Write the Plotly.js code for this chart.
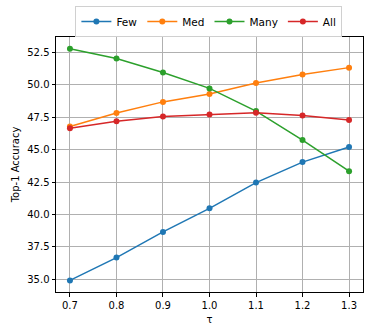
<!DOCTYPE html>
<html>
<head>
<meta charset="utf-8">
<script src="https://cdn.plot.ly/plotly-3.0.1.min.js"></script>
<style>
  html, body { margin: 0; padding: 0; background: #fff; }
  #chart { width: 374px; height: 336px; }
</style>
</head>
<body>
<div id="chart"></div>
<script>
var tau = [0.7, 0.8, 0.9, 1.0, 1.1, 1.2, 1.3];

var few = [34.92, 36.68, 38.66, 40.48, 42.46, 44.04, 45.2];
var med = [46.78, 47.82, 48.68, 49.29, 50.13, 50.79, 51.32];
var many = [52.78, 52.02, 50.95, 49.72, 47.97, 45.74, 43.34];
var all = [46.65, 47.18, 47.56, 47.71, 47.84, 47.64, 47.29];

var names = ["Few", "Med", "Many", "All"];
var colors = ["#1f77b4", "#ff7f0e", "#2ca02c", "#d62728"];
var series = [few, med, many, all];

var data = series.map(function (ys, i) {
  return {
    x: tau,
    y: ys,
    type: "scatter",
    mode: "lines+markers",
    name: names[i],
    line: { color: colors[i], width: 1.5 },
    marker: { color: colors[i], size: 6 },
    hoverinfo: "none",
  };
});

var axisStyle = {
  showline: true,
  linecolor: "#000",
  linewidth: 1,
  mirror: true,
  showgrid: true,
  gridcolor: "#b0b0b0",
  gridwidth: 1,
  zeroline: false,
  ticks: "outside",
  ticklen: 3.5,
  tickwidth: 1,
  tickcolor: "#000",
  tickfont: { size: 10, color: "#000" },
};

var layout = {
  width: 374,
  height: 336,
  margin: { l: 56, r: 11, t: 35, b: 44 },
  paper_bgcolor: "#fff",
  plot_bgcolor: "#fff",
  font: { family: "DejaVu Sans", size: 10, color: "#000" },
  showlegend: true,
  legend: {
    orientation: "h",
    xref: "paper",
    yref: "container",
    x: 0.498,
    xanchor: "center",
    y: 1 - 6 / 336,
    yanchor: "top",
    bordercolor: "#d0d0d0",
    borderwidth: 1,
    font: { size: 10.5 },
  },
  xaxis: Object.assign({}, axisStyle, {
    range: [0.67, 1.33],
    tickvals: tau,
    ticktext: tau.map(function (v) { return v.toFixed(1); }),
    title: { text: "τ", font: { size: 10 }, standoff: 6 },
  }),
  yaxis: Object.assign({}, axisStyle, {
    range: [34.03, 53.68],
    tickvals: [35, 37.5, 40, 42.5, 45, 47.5, 50, 52.5],
    ticktext: ["35.0", "37.5", "40.0", "42.5", "45.0", "47.5", "50.0", "52.5"],
    title: { text: "Top-1 Accuracy", font: { size: 10 }, standoff: 5 },
  }),
};

Plotly.newPlot("chart", data, layout, { displayModeBar: false, staticPlot: true });
</script>
</body>
</html>
